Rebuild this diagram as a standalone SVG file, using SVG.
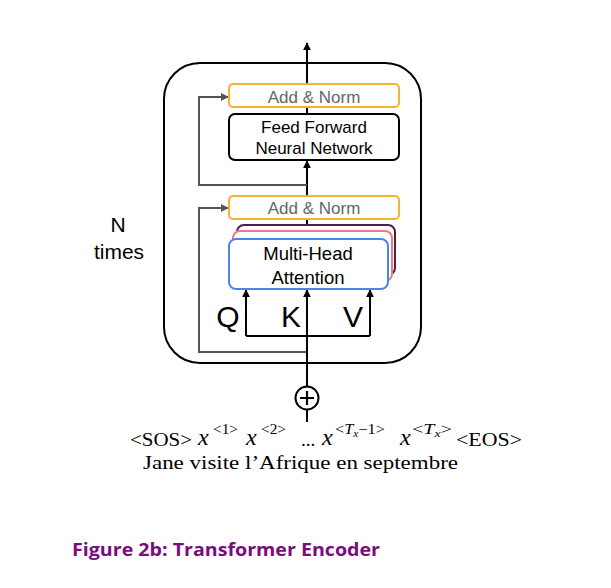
<svg xmlns="http://www.w3.org/2000/svg" width="611" height="588" viewBox="0 0 611 588">
<defs>
<style>
.sans{font-family:"Liberation Sans",Arial,sans-serif;}
.serif{font-family:"Liberation Serif","Times New Roman",serif;}
.an{fill:none;stroke:#F5B335;stroke-width:2;}
.lbl-gray{fill:#666;font-size:17px;}
.lbl{fill:#000;font-size:17px;}
.conn{fill:none;stroke:#000;stroke-width:2;}
.res{fill:none;stroke:#555;stroke-width:2;}
.mx{font-style:italic;font-size:24px;}
.sup{font-size:14.5px;}
</style>
<marker id="ab" viewBox="0 0 10 10" refX="9" refY="5" markerWidth="4" markerHeight="4" orient="auto" markerUnits="strokeWidth">
<path d="M0,0 L10,5 L0,10 z" fill="#000"/>
</marker>
<marker id="ag" viewBox="0 0 10 10" refX="9" refY="5" markerWidth="4" markerHeight="4" orient="auto" markerUnits="strokeWidth">
<path d="M0,0 L10,5 L0,10 z" fill="#555"/>
</marker>
</defs>
<rect width="611" height="588" fill="#fff"/>

<g id="encoder-block">
<rect x="164" y="63" width="257" height="300" rx="36" fill="none" stroke="#000" stroke-width="2"/>
</g>

<g id="connectors">
<path class="conn" d="M307,84 V43" marker-end="url(#ab)"/>
<path class="conn" d="M307,107 V114"/>
<path class="conn" d="M307,196 V161" marker-end="url(#ab)"/>
<path class="conn" d="M307,219 V225"/>
<path class="res" d="M307,185 H199 V97 H228" marker-end="url(#ag)"/>
<path class="res" d="M307,352 H199 V208 H228" marker-end="url(#ag)"/>
<path class="conn" d="M246,336 H370"/>
<path class="conn" d="M246,336 V290" marker-end="url(#ab)"/>
<path class="conn" d="M370,336 V290" marker-end="url(#ab)"/>
<path class="conn" d="M307,386 V290" marker-end="url(#ab)"/>
<path class="conn" d="M307,410 V422"/>
</g>

<g id="add-norm-top">
<rect class="an" x="229" y="84" width="170" height="23" rx="4" fill="#fff"/>
<text class="sans lbl-gray" x="314" y="102.5" text-anchor="middle">Add &amp; Norm</text>
</g>

<g id="feed-forward">
<rect x="229" y="114" width="170" height="46" rx="6" fill="#fff" stroke="#000" stroke-width="2"/>
<text class="sans lbl" x="314" y="133" text-anchor="middle">Feed Forward</text>
<text class="sans lbl" x="314" y="154" text-anchor="middle">Neural Network</text>
</g>

<g id="add-norm-bottom">
<rect class="an" x="229" y="196" width="170" height="23" rx="4" fill="#fff"/>
<text class="sans lbl-gray" x="314" y="214" text-anchor="middle">Add &amp; Norm</text>
</g>

<g id="multi-head-attention">
<rect x="237" y="225" width="158" height="50" rx="7" fill="#fff" stroke="#4C1F45" stroke-width="2"/>
<rect x="233" y="231" width="159" height="50" rx="7" fill="#fff" stroke="#E87C82" stroke-width="2"/>
<rect x="229" y="239" width="159" height="50" rx="7" fill="#fff" stroke="#4A86E8" stroke-width="2"/>
<text class="sans" x="308" y="259.5" text-anchor="middle" font-size="18.5">Multi-Head</text>
<text class="sans" x="308" y="283.5" text-anchor="middle" font-size="18.5">Attention</text>
</g>

<g id="qkv-labels">
<text class="sans" x="228" y="327" text-anchor="middle" font-size="30">Q</text>
<text class="sans" x="291" y="327" text-anchor="middle" font-size="30">K</text>
<text class="sans" x="353" y="327" text-anchor="middle" font-size="30">V</text>
</g>

<g id="n-times">
<text class="sans" x="118" y="232" text-anchor="middle" font-size="21">N</text>
<text class="sans" x="119" y="259" text-anchor="middle" font-size="21">times</text>
</g>

<g id="positional-add">
<circle cx="307" cy="398" r="11.5" fill="#fff" stroke="#000" stroke-width="2"/>
<path d="M300,398 H314 M307,391 V405" stroke="#000" stroke-width="2.2" fill="none"/>
</g>

<g id="input-tokens" class="serif" font-size="19">
<text x="130" y="446" textLength="62" lengthAdjust="spacingAndGlyphs">&lt;SOS&gt;</text>
<text class="mx" x="198" y="445">x</text>
<text class="sup" x="213" y="434" textLength="25" lengthAdjust="spacingAndGlyphs">&lt;1&gt;</text>
<text class="mx" x="246" y="445">x</text>
<text class="sup" x="261" y="434" textLength="25" lengthAdjust="spacingAndGlyphs">&lt;2&gt;</text>
<text x="301" y="446">...</text>
<text class="mx" x="322" y="445">x</text>
<text class="sup" x="335" y="434" textLength="50" lengthAdjust="spacingAndGlyphs">&lt;<tspan font-style="italic">T</tspan><tspan font-size="10" font-style="italic" dy="3">x</tspan><tspan dy="-3">−1&gt;</tspan></text>
<text class="mx" x="400" y="445">x</text>
<text class="sup" x="412" y="434" textLength="40" lengthAdjust="spacingAndGlyphs">&lt;<tspan font-style="italic">T</tspan><tspan font-size="10" font-style="italic" dy="3">x</tspan><tspan dy="-3">&gt;</tspan></text>
<text x="456" y="446" textLength="66" lengthAdjust="spacingAndGlyphs">&lt;EOS&gt;</text>
<text x="143" y="469" textLength="315" lengthAdjust="spacingAndGlyphs">Jane visite l’Afrique en septembre</text>
</g>

<g id="caption">
<text x="72" y="556" font-family="'Open Sans','Noto Sans',sans-serif" font-weight="bold" font-size="17" fill="#7B0C7E" textLength="308" lengthAdjust="spacingAndGlyphs">Figure 2b: Transformer Encoder</text>
</g>
</svg>
